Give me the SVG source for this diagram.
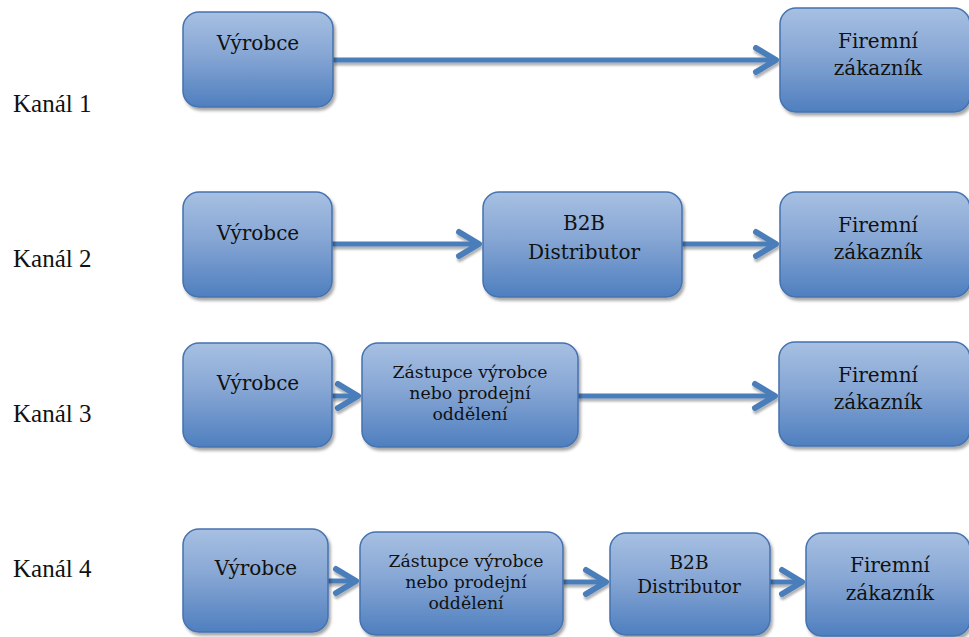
<svg xmlns="http://www.w3.org/2000/svg" width="969" height="637" viewBox="0 0 969 637">
  <defs>
    <linearGradient id="boxFill" x1="0" y1="0" x2="0" y2="1">
      <stop offset="0" stop-color="#a7c0e2"/>
      <stop offset="0.45" stop-color="#86a6d4"/>
      <stop offset="1" stop-color="#4f7fbf"/>
    </linearGradient>
    <filter id="boxShadow" x="-10%" y="-10%" width="125%" height="130%">
      <feDropShadow dx="2" dy="3" stdDeviation="1.5" flood-color="#000" flood-opacity="0.35"/>
    </filter>
    <filter id="lineShadow" x="-5%" y="-50%" width="110%" height="200%">
      <feDropShadow dx="1" dy="3" stdDeviation="0.8" flood-color="#000" flood-opacity="0.3"/>
    </filter>
    <marker id="chevron" viewBox="-26 -17 32 34" markerWidth="32" markerHeight="34" refX="0" refY="0" orient="auto" markerUnits="userSpaceOnUse">
      <path d="M-20,-12 L0,0 L-20,12" fill="none" stroke="#4a7ebb" stroke-width="6" stroke-linecap="round" stroke-linejoin="round"/>
    </marker>
  </defs>
  <style>
    .box { fill: url(#boxFill); stroke: #4472b0; stroke-width: 1.5; filter: url(#boxShadow); }
    .lbl { font-family: "DejaVu Serif", "Liberation Serif", serif; font-size: 20px; fill: #111; text-anchor: middle; }
    .sm { font-size: 17.3px; }
    .md { font-size: 18.5px; }
    .chan { font-family: "Liberation Serif", "Times New Roman", serif; font-size: 25px; fill: #111; }
    .arrow { fill: none; stroke: #4a7ebb; stroke-width: 5; marker-end: url(#chevron); }
  </style>

  <!-- channel captions -->
  <g id="channel-labels">
    <text class="chan" x="13" y="112">Kanál 1</text>
    <text class="chan" x="13" y="267">Kanál 2</text>
    <text class="chan" x="13" y="422">Kanál 3</text>
    <text class="chan" x="13" y="577">Kanál 4</text>
  </g>

  <!-- connectors -->
  <g id="connectors" filter="url(#lineShadow)">
    <path class="arrow" d="M333,60 H776"/>
    <path class="arrow" d="M332,244 H479"/>
    <path class="arrow" d="M682,244 H776"/>
    <path class="arrow" d="M332,396 H358"/>
    <path class="arrow" d="M578,396 H775"/>
    <path class="arrow" d="M328,581 H356"/>
    <path class="arrow" d="M563,582 H606"/>
    <path class="arrow" d="M770,582 H802"/>
  </g>

  <!-- channel 1 -->
  <g id="k1-vyrobce">
    <rect class="box" x="183" y="12" width="150" height="95" rx="16"/>
    <text class="lbl" x="258" y="50">Výrobce</text>
  </g>
  <g id="k1-zakaznik">
    <rect class="box" x="780" y="8" width="190" height="104" rx="16"/>
    <text class="lbl" x="878" y="48">Firemní</text>
    <text class="lbl" x="878" y="75">zákazník</text>
  </g>

  <!-- channel 2 -->
  <g id="k2-vyrobce">
    <rect class="box" x="183" y="192" width="149" height="105" rx="16"/>
    <text class="lbl" x="258" y="240">Výrobce</text>
  </g>
  <g id="k2-distributor">
    <rect class="box" x="483" y="192" width="199" height="105" rx="16"/>
    <text class="lbl" x="584" y="230">B2B</text>
    <text class="lbl" x="584" y="259">Distributor</text>
  </g>
  <g id="k2-zakaznik">
    <rect class="box" x="780" y="192" width="190" height="105" rx="16"/>
    <text class="lbl" x="878" y="232">Firemní</text>
    <text class="lbl" x="878" y="259">zákazník</text>
  </g>

  <!-- channel 3 -->
  <g id="k3-vyrobce">
    <rect class="box" x="183" y="343" width="149" height="104" rx="16"/>
    <text class="lbl" x="258" y="390">Výrobce</text>
  </g>
  <g id="k3-zastupce">
    <rect class="box" x="362" y="343" width="216" height="104" rx="16"/>
    <text class="lbl sm" x="470" y="378">Zástupce výrobce</text>
    <text class="lbl sm" x="470" y="399">nebo prodejní</text>
    <text class="lbl sm" x="470" y="420">oddělení</text>
  </g>
  <g id="k3-zakaznik">
    <rect class="box" x="779" y="342" width="191" height="104" rx="16"/>
    <text class="lbl" x="878" y="382">Firemní</text>
    <text class="lbl" x="878" y="409">zákazník</text>
  </g>

  <!-- channel 4 -->
  <g id="k4-vyrobce">
    <rect class="box" x="183" y="529" width="145" height="103" rx="16"/>
    <text class="lbl" x="256" y="575">Výrobce</text>
  </g>
  <g id="k4-zastupce">
    <rect class="box" x="360" y="532" width="203" height="103" rx="16"/>
    <text class="lbl sm" x="466" y="567">Zástupce výrobce</text>
    <text class="lbl sm" x="466" y="588">nebo prodejní</text>
    <text class="lbl sm" x="466" y="609">oddělení</text>
  </g>
  <g id="k4-distributor">
    <rect class="box" x="610" y="533" width="160" height="102" rx="16"/>
    <text class="lbl md" x="689" y="569">B2B</text>
    <text class="lbl md" x="689" y="593">Distributor</text>
  </g>
  <g id="k4-zakaznik">
    <rect class="box" x="806" y="533" width="164" height="103" rx="16"/>
    <text class="lbl" x="890" y="572">Firemní</text>
    <text class="lbl" x="890" y="600">zákazník</text>
  </g>
</svg>
